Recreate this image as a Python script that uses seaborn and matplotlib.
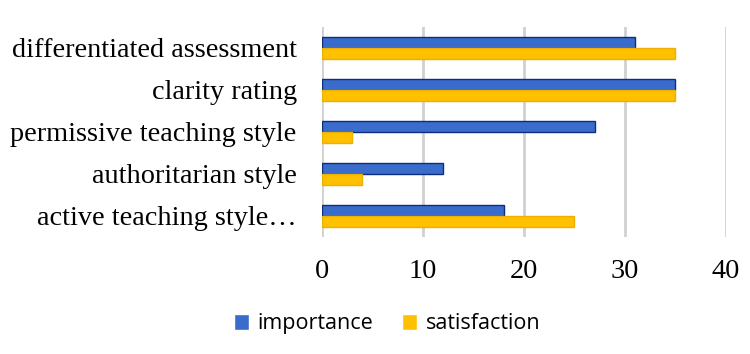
import pandas as pd
import matplotlib.pyplot as plt
import seaborn as sns

categories = ['differentiated assessment', 'clarity rating', 'permissive teaching style',
              'authoritarian style', 'active teaching style\u2026']
importance = [31, 35, 27, 12, 18]
satisfaction = [35, 35, 3, 4, 25]
series = ['importance', 'satisfaction']

df = pd.DataFrame({
    'category': categories * 2,
    'value': importance + satisfaction,
    'series': ['importance'] * len(categories) + ['satisfaction'] * len(categories),
})

sns.set_style('white')
fig = plt.figure(figsize=(7.5, 3.54), dpi=100)
ax = fig.add_axes([0.429, 0.331, 0.539, 0.593])

sns.barplot(data=df, x='value', y='category', hue='series', hue_order=series,
            palette=['#3A6CCC', '#FFC000'], saturation=1, width=0.52, ax=ax, legend=True)

# edge colours like the office-style bars
for patch, ec in zip(ax.patches, ['#0E2C80'] * 5 + ['#EBB000'] * 5):
    patch.set_edgecolor(ec)
    patch.set_linewidth(1.0)

ax.set_xlim(0, 40)
ax.set_xticks([0, 10, 20, 30, 40])
ax.xaxis.grid(True, color='#D0D0D0', linewidth=2)
ax.set_axisbelow(True)
for s in ax.spines.values():
    s.set_visible(False)
ax.tick_params(axis='both', length=0)
ax.tick_params(axis='y', pad=18)
ax.tick_params(axis='x', pad=16)
ax.set_xlabel('')
ax.set_ylabel('')
for lab in ax.get_yticklabels() + ax.get_xticklabels():
    lab.set_fontfamily('Liberation Serif')
    lab.set_fontsize(20.3)
    lab.set_color('black')

handles, labels = ax.get_legend_handles_labels()
ax.get_legend().remove()
leg = fig.legend(handles, labels, loc='center', bbox_to_anchor=(0.516, 0.085), ncol=2,
                 frameon=False, prop={'family': 'Open Sans', 'size': 15.5},
                 handlelength=0.72, handleheight=0.72, columnspacing=1.3, handletextpad=0.4)
for t in leg.get_texts():
    t.set_color('black')

fig.savefig('out.png', dpi=100)
